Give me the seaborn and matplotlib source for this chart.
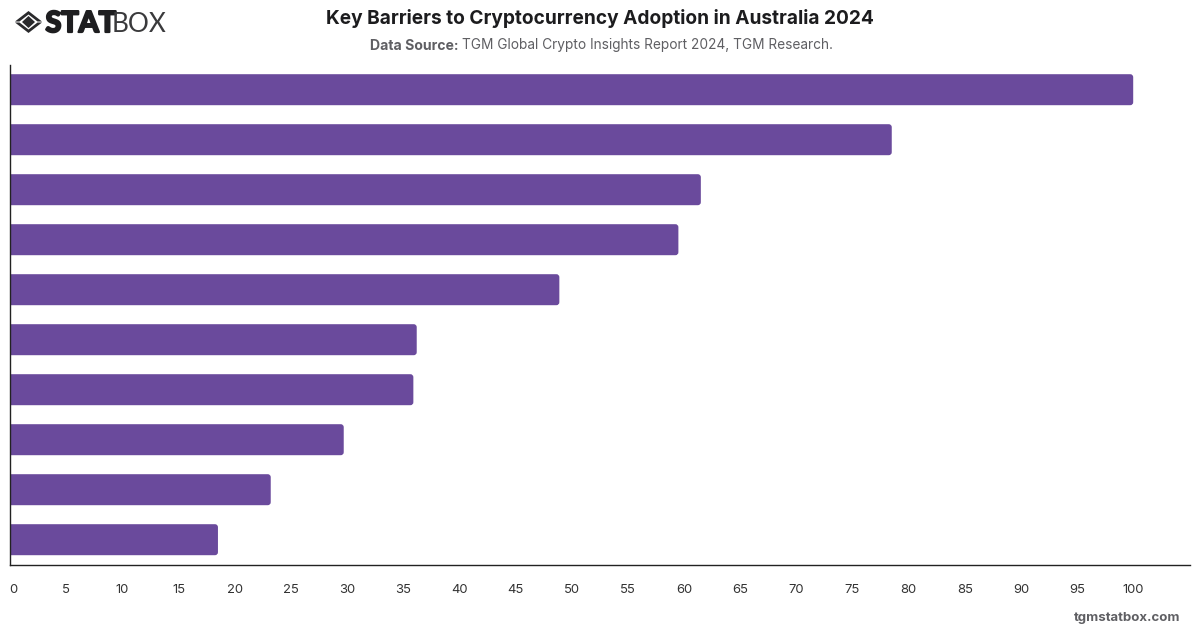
import matplotlib
matplotlib.use("Agg")
import matplotlib.pyplot as plt
from matplotlib.patches import FancyBboxPatch, Polygon
from matplotlib.transforms import ScaledTranslation
import matplotlib.patheffects as pe
import pandas as pd
import seaborn as sns

barriers = ["Barrier A", "Barrier B", "Barrier C", "Barrier D", "Barrier E",
            "Barrier F", "Barrier G", "Barrier H", "Barrier I", "Barrier J"]
shares = [100, 78.5, 61.5, 59.5, 48.9, 36.2, 35.9, 29.7, 23.2, 18.5]
x_ticks = list(range(0, 105, 5))

TITLE = "Key Barriers to Cryptocurrency Adoption in Australia 2024"
SOURCE_LABEL = "Data Source:"
SOURCE_TEXT = "TGM Global Crypto Insights Report 2024, TGM Research."
FOOTER = "tgmstatbox.com"

PURPLE = "#6A4A9C"
INK = "#222222"
W, H = 1200, 628

sns.set_theme(style="white")
plt.rcParams["font.family"] = ["Inter", "DejaVu Sans"]

fig = plt.figure(figsize=(W / 100, H / 100), dpi=100, facecolor="white")
ax = fig.add_axes([10.2 / W, 1 - 564.7 / H, (1190 - 10.2) / W, 500 / H])

df = pd.DataFrame({"barrier": barriers, "share": shares})
sns.barplot(data=df, x="share", y="barrier", color=PURPLE, saturation=1,
            width=0.62, ax=ax)

ax.set_xlim(0, 1179.8 / 11.23)
ax.set_ylim(len(barriers) - 0.5, -0.5)
ax.set_xlabel("")
ax.set_ylabel("")
ax.set_yticks([])
ax.set_xticks(x_ticks)
ax.tick_params(axis="x", length=0, pad=14, labelsize=9.4, labelcolor="#333333")

for side in ("top", "right"):
    ax.spines[side].set_visible(False)
for side in ("left", "bottom"):
    ax.spines[side].set_color(INK)
    ax.spines[side].set_linewidth(1.0)

# Swap the square bars for ones with softly rounded ends; the left corners
# start past the axis so only the right end shows the curve.
x_per_px = 1 / 11.23
y_per_px = 1 / 50
radius = 3 * x_per_px
for bar in list(ax.patches):
    x, y = bar.get_x(), bar.get_y()
    w, h = bar.get_width(), bar.get_height()
    bar.remove()
    ax.add_patch(FancyBboxPatch((x - radius, y), w + radius, h,
                                boxstyle=f"round,pad=0,rounding_size={radius}",
                                mutation_aspect=y_per_px / x_per_px,
                                facecolor=PURPLE, edgecolor="none", zorder=2))

# Nudge the first tick label inward so it clears the axis line.
first = ax.get_xticklabels()[0]
first.set_transform(first.get_transform() +
                    ScaledTranslation(3 / 100, 0, fig.dpi_scale_trans))

# Page furniture laid out in pixel coordinates.
page = fig.add_axes([0, 0, 1, 1], facecolor="none")
page.set_xlim(0, W)
page.set_ylim(H, 0)
page.axis("off")

page.text(600, 18.5, TITLE, ha="center", va="center", fontsize=13.75,
          fontweight="bold", color="#1c1c1e")
page.text(370, 45.5, SOURCE_LABEL, ha="left", va="center", fontsize=10.1,
          fontweight="bold", color="#5f5f63")
page.text(462, 45.5, SOURCE_TEXT, ha="left", va="center", fontsize=9.89,
          color="#5f5f63")
page.text(1180, 618, FOOTER, ha="right", va="center", fontsize=9.5,
          fontweight="bold", color="#5f5f63")

# Wordmark: a faceted diamond followed by heavy and light lettering.
LOGO = "#2a2a2c"
page.add_patch(Polygon([(28.5, 16), (35, 22), (28.5, 28), (22, 22)], closed=True,
                       facecolor=LOGO, edgecolor="none"))
page.add_patch(Polygon([(28.5, 11), (42, 21.5), (37.5, 21.5), (28.5, 14.5), (19.5, 21.5), (15, 21.5)],
                       closed=True, facecolor=LOGO, edgecolor="none"))
page.add_patch(Polygon([(28.5, 33), (42, 22.5), (37.5, 22.5), (28.5, 29.5), (19.5, 22.5), (15, 22.5)],
                       closed=True, facecolor=LOGO, edgecolor="none"))
page.text(45.5, 24, "STAT", ha="left", va="center", fontsize=20.8,
          fontweight="bold", family="Lato", color="#1e1e20",
          path_effects=[pe.withStroke(linewidth=1.6, foreground="#1e1e20")])
page.text(112, 24, "BOX", ha="left", va="center", fontsize=18.8,
          fontweight="normal", family="Lato", color="#3a3a3c")

fig.savefig("out.png", dpi=100, facecolor="white")
